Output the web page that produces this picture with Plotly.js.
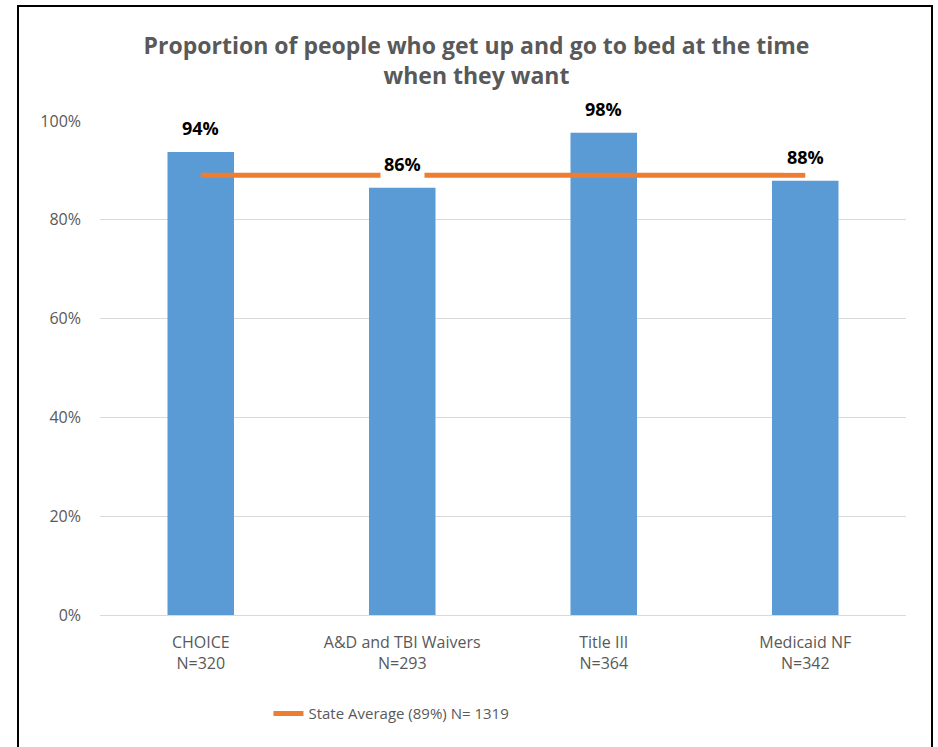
<!DOCTYPE html>
<html>
<head>
<meta charset="utf-8">
<script src="https://cdn.plot.ly/plotly-3.0.1.min.js"></script>
<style>
  html, body { margin: 0; padding: 0; background: #fff; }
  #wrap { position: relative; width: 938px; height: 747px; }
  #chart { position: absolute; left: 0; top: 0; width: 938px; height: 747px; }
  #frame { position: absolute; left: 17px; top: 5px; width: 912px; height: 760px;
           border-left: 2px solid #000; border-top: 2px solid #000; border-right: 2px solid #000;
           pointer-events: none; }
</style>
</head>
<body>
<div id="wrap">
  <div id="chart"></div>
  <div id="frame"></div>
</div>
<script>
const categories = ["CHOICE", "A&D and TBI Waivers", "Title III", "Medicaid NF"];
const sampleSizes = ["N=320", "N=293", "N=364", "N=342"];
const values = [0.937, 0.865, 0.976, 0.879];
const valueLabels = ["94%", "86%", "98%", "88%"];
const stateAverage = 0.89;
const stateLabel = "State Average (89%) N= 1319";
const yTicks = [0, 0.2, 0.4, 0.6, 0.8, 1.0];
const yTickLabels = ["0%", "20%", "40%", "60%", "80%", "100%"];

const xLabels = categories.map((c, i) => c + "<br>" + sampleSizes[i]);
const FONT = "'Open Sans', sans-serif";

const bars = {
  type: "bar",
  x: xLabels,
  y: values,
  width: 0.33,
  marker: { color: "#5B9BD5" },
  showlegend: false,
  hoverinfo: "skip"
};

const avgLine = {
  type: "scatter",
  mode: "lines",
  x: xLabels,
  y: xLabels.map(() => stateAverage),
  line: { color: "#ED7D31", width: 5 },
  name: stateLabel,
  showlegend: true,
  hoverinfo: "skip"
};

const annotations = xLabels.map((x, i) => ({
  x: x, y: values[i], xref: "x", yref: "y",
  text: "<b>" + valueLabels[i] + "</b>",
  showarrow: false,
  yanchor: "bottom",
  yshift: 8,
  bgcolor: "#ffffff",
  borderpad: 3,
  font: { family: FONT, size: 18, color: "#000" }
}));

const layout = {
  width: 938, height: 747,
  margin: { l: 100, r: 32, t: 121, b: 132 },
  paper_bgcolor: "#ffffff",
  plot_bgcolor: "#ffffff",
  title: {
    text: "<b>Proportion of people who get up and go to bed at the time<br>when they want</b>",
    x: 0.508, xanchor: "center",
    xref: "container", yref: "container",
    y: 1 - 54 / 747, yanchor: "middle",
    font: { family: FONT, size: 23, color: "#595959" }
  },
  xaxis: {
    type: "category",
    showgrid: false,
    showline: false,
    zeroline: false,
    ticks: "",
    ticklabelstandoff: 16,
    tickfont: { family: FONT, size: 16, color: "#595959" },
    fixedrange: true
  },
  yaxis: {
    range: [0, 1.0],
    tickvals: yTicks,
    ticktext: yTickLabels,
    showgrid: true,
    gridcolor: "#D9D9D9",
    gridwidth: 1,
    zeroline: true,
    zerolinecolor: "#D9D9D9",
    showline: false,
    ticks: "",
    ticklabelstandoff: 18,
    tickfont: { family: FONT, size: 16, color: "#595959" },
    fixedrange: true
  },
  showlegend: true,
  legend: {
    orientation: "h",
    x: 0.209, xanchor: "left",
    y: -0.2, yanchor: "middle",
    font: { family: FONT, size: 15, color: "#595959" },
    bgcolor: "rgba(0,0,0,0)"
  },
  annotations: annotations,
  bargap: 0.67
};

Plotly.newPlot("chart", [bars, avgLine], layout, { displayModeBar: false, staticPlot: true });
</script>
</body>
</html>
